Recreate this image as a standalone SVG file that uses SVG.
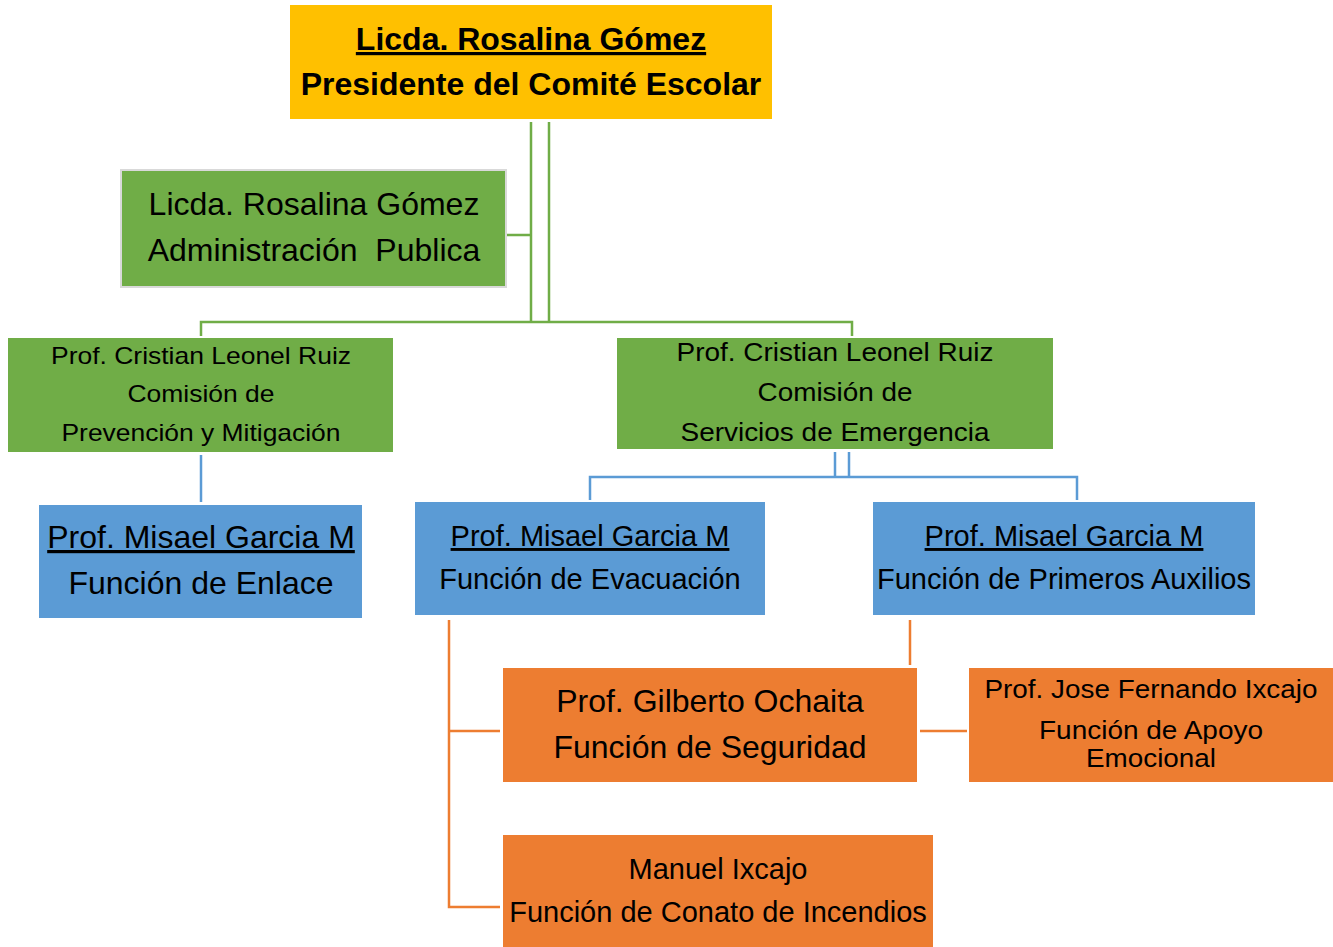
<svg xmlns="http://www.w3.org/2000/svg" width="1333" height="947" viewBox="0 0 1333 947">
<style>
text{font-family:"Liberation Sans",Arial,sans-serif;fill:#000;text-anchor:middle}
.b{font-weight:bold}
.u{text-decoration:underline}
.yel{fill:#FFC000}
.grn{fill:#70AD47}
.blu{fill:#5B9BD5}
.org{fill:#ED7D31}
.cg{stroke:#70AD47;stroke-width:2.5;fill:none}
.cb{stroke:#5B9BD5;stroke-width:2.5;fill:none}
.co{stroke:#ED7D31;stroke-width:2.5;fill:none}
</style>
<rect width="1333" height="947" fill="#fff"/>
<g id="connectors">
<path class="cg" d="M531 122V322M549 122V322M507 235H531M201 336V322H852V336"/>
<path class="cb" d="M201 455V502M835 452V477M849 452V477M590 500V477H1077V500"/>
<path class="co" d="M449 620V907H500M449 731H500M910 620V665M920 731H967"/>
</g>
<g id="n-presidente">
<rect class="yel" x="290" y="5" width="482" height="114"/>
<text class="b u" x="531" y="50" font-size="32">Licda. Rosalina Gómez</text>
<text class="b" x="531" y="95" font-size="32">Presidente del Comité Escolar</text>
</g>
<g id="n-admin">
<rect class="grn" x="121" y="170" width="385" height="117" stroke="#D9D9D9" stroke-width="2"/>
<text x="314" y="215" font-size="32">Licda. Rosalina Gómez</text>
<text x="314" y="261" font-size="32" xml:space="preserve">Administración  Publica</text>
</g>
<g id="n-prevencion">
<rect class="grn" x="8" y="338" width="385" height="114"/>
<text x="201" y="364" font-size="24" textLength="300" lengthAdjust="spacingAndGlyphs">Prof. Cristian Leonel Ruiz</text>
<text x="201" y="402" font-size="24" textLength="147" lengthAdjust="spacingAndGlyphs">Comisión de</text>
<text x="201" y="441" font-size="24" textLength="279" lengthAdjust="spacingAndGlyphs">Prevención y Mitigación</text>
</g>
<g id="n-emergencia">
<rect class="grn" x="617" y="338" width="436" height="111"/>
<text x="835" y="361" font-size="26" textLength="317" lengthAdjust="spacingAndGlyphs">Prof. Cristian Leonel Ruiz</text>
<text x="835" y="401" font-size="26" textLength="155" lengthAdjust="spacingAndGlyphs">Comisión de</text>
<text x="835" y="441" font-size="26" textLength="309" lengthAdjust="spacingAndGlyphs">Servicios de Emergencia</text>
</g>
<g id="n-enlace">
<rect class="blu" x="39" y="505" width="323" height="113"/>
<text class="u" x="201" y="548" font-size="32">Prof. Misael Garcia M</text>
<text x="201" y="594" font-size="32">Función de Enlace</text>
</g>
<g id="n-evacuacion">
<rect class="blu" x="415" y="502" width="350" height="113"/>
<text class="u" x="590" y="546" font-size="29">Prof. Misael Garcia M</text>
<text x="590" y="589" font-size="29">Función de Evacuación</text>
</g>
<g id="n-auxilios">
<rect class="blu" x="873" y="502" width="382" height="113"/>
<text class="u" x="1064" y="546" font-size="29">Prof. Misael Garcia M</text>
<text x="1064" y="589" font-size="29">Función de Primeros Auxilios</text>
</g>
<g id="n-seguridad">
<rect class="org" x="503" y="668" width="414" height="114"/>
<text x="710" y="712" font-size="32">Prof. Gilberto Ochaita</text>
<text x="710" y="758" font-size="32">Función de Seguridad</text>
</g>
<g id="n-apoyo">
<rect class="org" x="969" y="668" width="364" height="114"/>
<text x="1151" y="698" font-size="25" textLength="333" lengthAdjust="spacingAndGlyphs">Prof. Jose Fernando Ixcajo</text>
<text x="1151" y="739" font-size="25" textLength="224" lengthAdjust="spacingAndGlyphs">Función de Apoyo</text>
<text x="1151" y="767" font-size="25" textLength="130" lengthAdjust="spacingAndGlyphs">Emocional</text>
</g>
<g id="n-conato">
<rect class="org" x="503" y="835" width="430" height="112"/>
<text x="718" y="879" font-size="29">Manuel Ixcajo</text>
<text x="718" y="922" font-size="29">Función de Conato de Incendios</text>
</g>
</svg>
